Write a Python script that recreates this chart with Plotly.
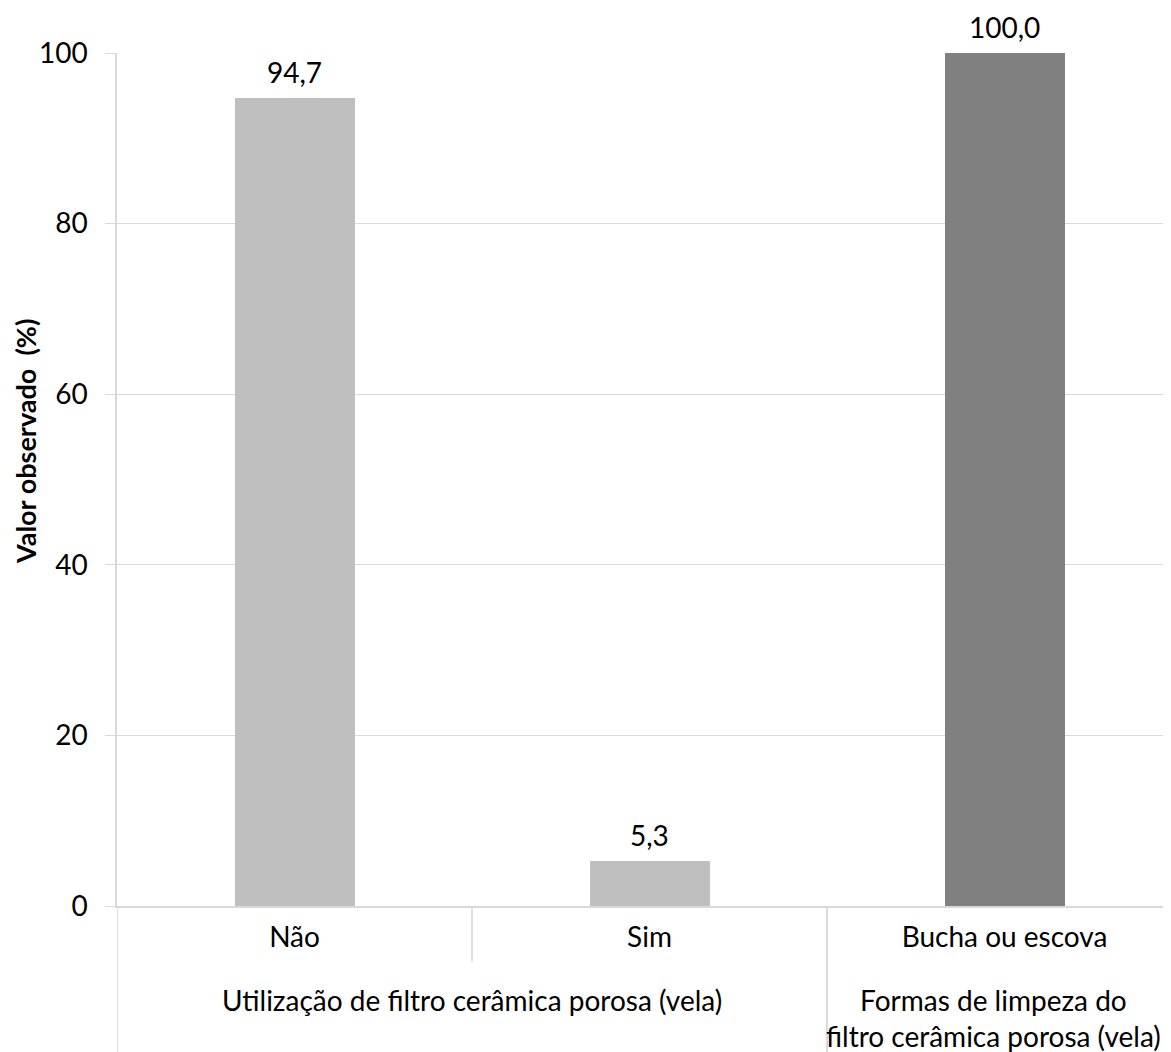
import plotly.graph_objects as go

# Data
categories = ["Não", "Sim", "Bucha ou escova"]
values = [94.7, 5.3, 100.0]
groups = ["Utilização de filtro cerâmica porosa (vela)",
          "Utilização de filtro cerâmica porosa (vela)",
          "Formas de limpeza do<br>filtro cerâmica porosa (vela)"]
bar_colors = ["#BFBFBF", "#BFBFBF", "#808080"]
y_ticks = [0, 20, 40, 60, 80, 100]
y_title = "Valor observado  (%)"

# page body has an 8px margin: figure sized to fit the window
W, H = 1163, 1044
ML, MR, MT, MB = 109, 0, 45, 146
plot_h = H - MT - MB
plot_w = W - ML - MR
CAT_PX = 355           # width of one category in the reference (chart is cropped at the right)
x_max = -0.5 + plot_w / CAT_PX
FONT = "Lato"
FS = 28
grid = "#D9D9D9"

fig = go.Figure()
fig.add_trace(go.Bar(
    x=categories, y=values, marker=dict(color=bar_colors, line=dict(width=0)),
    width=120 / CAT_PX, hoverinfo="skip", showlegend=False,
))

# data labels
for c, v in zip(categories, values):
    fig.add_annotation(x=c, y=v, xref="x", yref="y", text=f"{v:.1f}".replace(".", ","),
                       showarrow=False, yanchor="bottom", yshift=7,
                       font=dict(family=FONT, size=FS, color="#000000"))

def py(pix):  # pixel offset below plot bottom -> paper coordinate
    return -pix / plot_h

ordered = []
for i, g in enumerate(groups):
    if not ordered or ordered[-1][0] != g:
        ordered.append([g, i, i])
    else:
        ordered[-1][2] = i
for g, a, b in ordered:
    two = "<br>" in g
    fig.add_annotation(x=(a + b) / 2, y=py(112) if two else py(94), xref="x", yref="paper",
                       text=g, showarrow=False, yanchor="middle", xshift=-11 if two else 0,
                       font=dict(family=FONT, size=FS, color="#000000"))
    for edge in (a - 0.5, b + 0.5):
        if edge <= x_max:
            fig.add_shape(type="line", xref="x", yref="paper", x0=edge, x1=edge,
                          y0=0, y1=py(MB), line=dict(color=grid, width=1.5))
    for k in range(a, b):
        fig.add_shape(type="line", xref="x", yref="paper", x0=k + 0.5, x1=k + 0.5,
                      y0=0, y1=py(56), line=dict(color=grid, width=1.5))

# y axis title (placed as in the reference, slightly above plot centre)
fig.add_annotation(x=-(ML - 17) / plot_w, y=1 - (434 - MT) / plot_h, xref="paper", yref="paper",
                   text=f"<b>{y_title}</b>", textangle=-90, showarrow=False,
                   xanchor="center", yanchor="middle",
                   font=dict(family=FONT, size=27, color="#000000"))

fig.update_layout(
    width=W, height=H,
    margin=dict(l=ML, r=MR, t=MT, b=MB, autoexpand=False),
    paper_bgcolor="white", plot_bgcolor="white",
    font=dict(family=FONT, size=FS, color="#000000"),
    bargap=0.0,
    xaxis=dict(type="category", showline=True, linecolor=grid, linewidth=1.5,
               showgrid=False, ticks="", ticklabelstandoff=6, automargin=False,
               range=[-0.5, x_max], tickfont=dict(family=FONT, size=FS)),
    yaxis=dict(range=[0, 100], tickvals=y_ticks, showgrid=True, gridcolor=grid, gridwidth=1.2,
               showline=True, linecolor=grid, linewidth=1.5, ticks="outside", ticklen=10,
               tickcolor=grid, zeroline=False, ticklabelstandoff=12, automargin=False,
               tickfont=dict(family=FONT, size=FS)),
)

fig.write_html("out.html")
